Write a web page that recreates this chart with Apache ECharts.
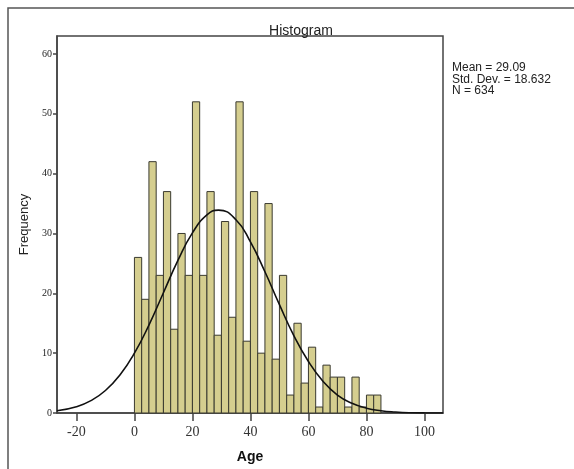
<!DOCTYPE html>
<html>
<head>
<meta charset="utf-8">
<script src="https://cdn.jsdelivr.net/npm/echarts@6/dist/echarts.min.js"></script>
<style>
  html, body { margin: 0; padding: 0; background: #fff; }
  #main { width: 574px; height: 469px; }
</style>
</head>
<body>
<div id="main"></div>
<script>
// 直方图: 年龄分布, 组距 2.5
const binStart = 0;
const binWidth = 2.5;
const counts = [26, 19, 42, 23, 37, 14, 30, 23, 52, 23, 37, 13, 32, 16, 52, 12, 37,
  10, 35, 9, 23, 3, 15, 5, 11, 1, 8, 6, 6, 1, 6, 1, 3, 3];

// 正态曲线
const curveX = [-26.7, -20, -15, -10, -5, 0, 5, 10, 15, 20, 25, 29, 35, 40, 45, 50, 55,
  60, 65, 70, 75, 80, 85, 90, 95, 100, 106.4];
const curveY = [0.37, 1.05, 2.07, 3.76, 6.36, 10.0, 14.7, 20.1, 25.5, 30.1, 33.1, 33.9,
  32.3, 28.6, 23.6, 18.1, 12.9, 8.6, 5.3, 3.0, 1.63, 0.81, 0.38, 0.16, 0.05, 0.02, 0.0];

const xTicks = [-20, 0, 20, 40, 60, 80, 100];
const yTicks = [0, 10, 20, 30, 40, 50, 60];
const statLines = ['Mean = 29.09', 'Std. Dev. = 18.632', 'N = 634'];

const bins = counts.map((c, i) => [binStart + i * binWidth, binStart + (i + 1) * binWidth, c]);

const chart = echarts.init(document.getElementById('main'));

const option = {
  animation: false,
  backgroundColor: '#fff',
  title: {
    text: 'Histogram',
    left: 296,
    top: 19,
    textAlign: 'center',
    textStyle: { fontFamily: 'Liberation Sans', fontSize: 14, fontWeight: 'normal', color: '#222' }
  },
  grid: {
    left: 57, right: 131, top: 36, bottom: 55,
    show: true, borderColor: '#444', borderWidth: 1.5
  },
  xAxis: {
    type: 'value',
    min: -26.7,
    max: 106.4,
    name: 'Age',
    nameLocation: 'middle',
    nameGap: 37,
    nameTextStyle: { fontFamily: 'Liberation Sans', fontSize: 14, fontWeight: 'bold', color: '#111' },
    splitLine: { show: false },
    axisLine: { onZero: false, lineStyle: { color: '#444', width: 1.5 } },
    axisTick: { customValues: xTicks, length: 8, lineStyle: { color: '#444', width: 1.5 } },
    axisLabel: {
      customValues: xTicks,
      margin: 12,
      fontFamily: 'Liberation Serif', fontSize: 14, color: '#333'
    }
  },
  yAxis: {
    type: 'value',
    min: 0,
    max: 63,
    name: 'Frequency',
    nameLocation: 'middle',
    nameGap: 26,
    nameRotate: 90,
    nameTextStyle: { fontFamily: 'Liberation Sans', fontSize: 13, color: '#222' },
    splitLine: { show: false },
    axisLine: { show: true, onZero: false, lineStyle: { color: '#444', width: 1.5 } },
    axisTick: { show: true, customValues: yTicks, length: 4, lineStyle: { color: '#444', width: 1.5 } },
    axisLabel: { customValues: yTicks, margin: 5, fontFamily: 'Liberation Serif', fontSize: 10, color: '#222' }
  },
  series: [
    {
      type: 'custom',
      data: bins,
      encode: { x: [0, 1], y: 2 },
      renderItem: function (params, api) {
        const p0 = api.coord([api.value(0), api.value(2)]);
        const p1 = api.coord([api.value(1), 0]);
        return {
          type: 'rect',
          shape: { x: p0[0], y: p0[1], width: p1[0] - p0[0], height: p1[1] - p0[1] },
          style: { fill: '#d5ce8f', stroke: '#3a3a30', lineWidth: 1 }
        };
      }
    },
    {
      type: 'line',
      data: curveX.map((x, i) => [x, curveY[i]]),
      smooth: true,
      showSymbol: false,
      lineStyle: { color: '#111', width: 1.6 },
      z: 3
    }
  ],
  graphic: [
    {
      type: 'rect',
      shape: { x: 8, y: 8, width: 620, height: 520 },
      style: { fill: 'none', stroke: '#555', lineWidth: 1.5 },
      silent: true
    },
    {
      type: 'text',
      left: 452,
      top: 62,
      style: {
        text: statLines.join('\n'),
        font: '12px "Liberation Sans"',
        lineHeight: 11.5,
        fill: '#222'
      }
    }
  ]
};

chart.setOption(option);
</script>
</body>
</html>
